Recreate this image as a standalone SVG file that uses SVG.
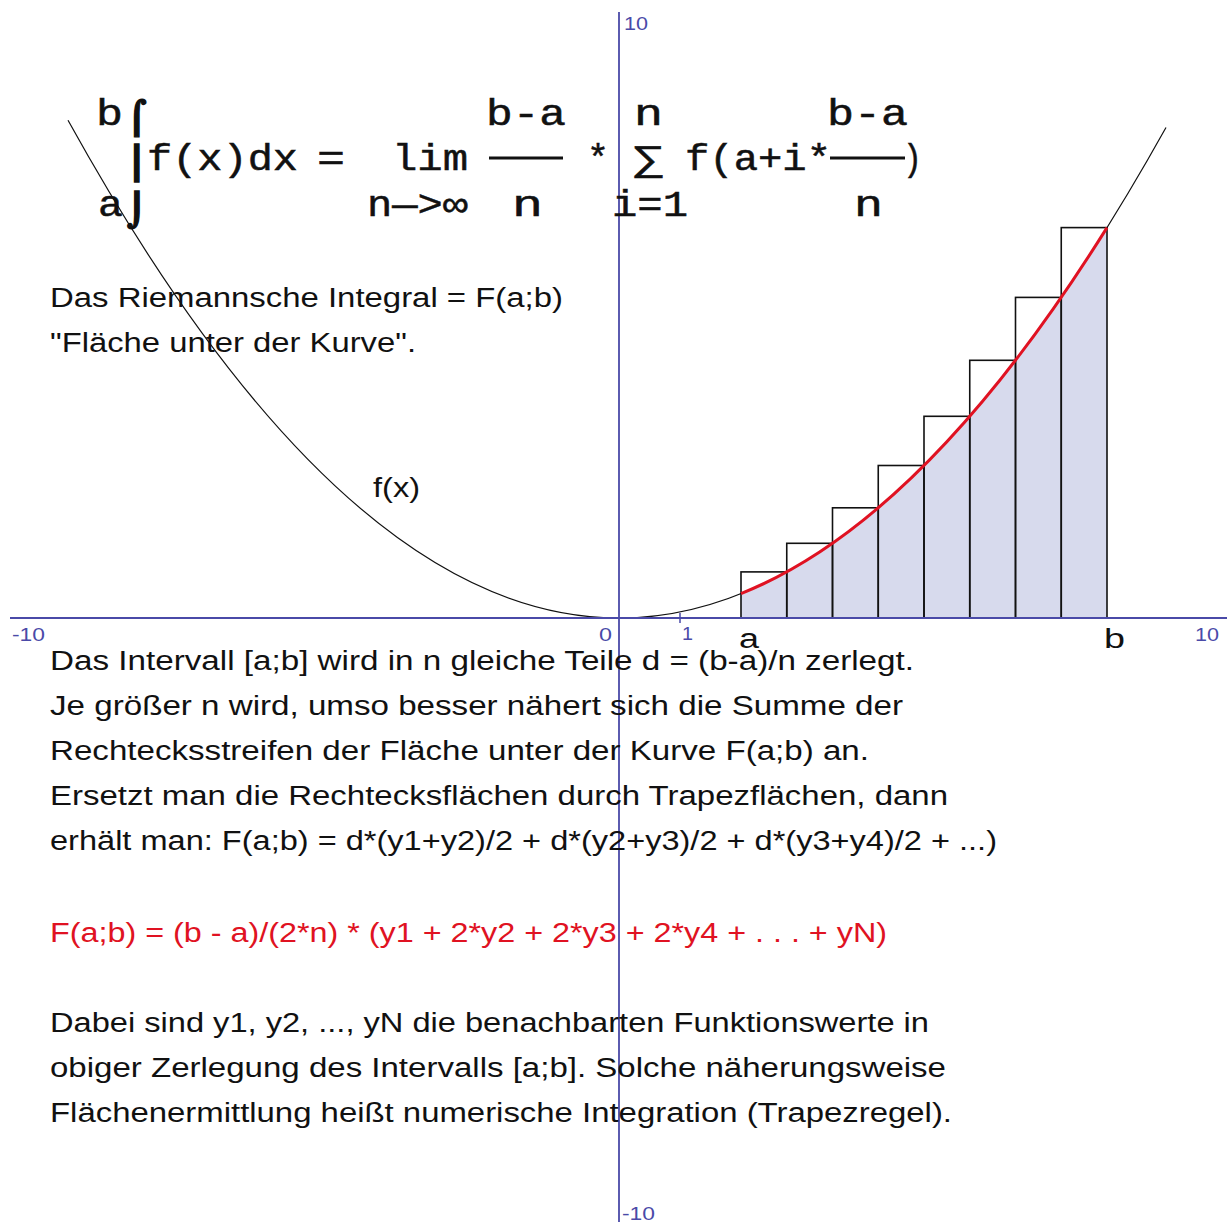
<svg xmlns="http://www.w3.org/2000/svg" width="1227" height="1222" viewBox="0 0 1227 1222">
<style>
.t{font-family:"Liberation Sans",Arial,sans-serif;font-size:27px;fill:#111}
.r{fill:#e01222}
.m{font-family:"Liberation Mono","Courier New",monospace;font-size:36px;fill:#111;stroke:#111;stroke-width:0.5}
.ig{font-family:"DejaVu Sans",sans-serif;font-size:32px;font-weight:bold;fill:#111;stroke:#111;stroke-width:1.4}
.ax{stroke:#4a4aa8;fill:none}
.al{font-family:"Liberation Sans",Arial,sans-serif;font-size:19px;fill:#4a4aa8}
.rect{fill:none;stroke:#111;stroke-width:1.6}
.bar{stroke:#111;stroke-width:3}
</style>
<rect width="1227" height="1222" fill="#fff"/>
<g id="area">
<path d="M741,618 L741,593.6 Q924,520.4 1107,227.6 L1107,618 Z" fill="#d7daed"/>
</g>
<g id="rectangles">
<rect class="rect" x="741" y="571.9" width="45.75" height="46.1"/>
<rect class="rect" x="786.75" y="543.3" width="45.75" height="74.7"/>
<rect class="rect" x="832.5" y="507.8" width="45.75" height="110.2"/>
<rect class="rect" x="878.25" y="465.5" width="45.75" height="152.5"/>
<rect class="rect" x="924" y="416.3" width="45.75" height="201.7"/>
<rect class="rect" x="969.75" y="360.3" width="45.75" height="257.7"/>
<rect class="rect" x="1015.5" y="297.4" width="45.75" height="320.6"/>
<rect class="rect" x="1061.25" y="227.6" width="45.75" height="390.4"/>
</g>
<g id="curve">
<path d="M68,120.3 Q617,1112.1 1166,127.5" fill="none" stroke="#111" stroke-width="1.2"/>
<path d="M741,593.6 Q924,520.4 1107,227.6" fill="none" stroke="#e01222" stroke-width="3"/>
</g>
<g id="axes">
<line class="ax" x1="10" y1="618" x2="1227" y2="618" stroke-width="2"/>
<line class="ax" x1="619" y1="12" x2="619" y2="1222" stroke-width="1.8"/>
<line class="ax" x1="680" y1="613" x2="680" y2="623" stroke-width="1.5"/>
<text class="al" x="12" y="641" textLength="33" lengthAdjust="spacingAndGlyphs">-10</text>
<text class="al" x="599" y="641" textLength="13" lengthAdjust="spacingAndGlyphs">0</text>
<text class="al" x="682" y="640" textLength="11" lengthAdjust="spacingAndGlyphs">1</text>
<text class="al" x="1195" y="641" textLength="24" lengthAdjust="spacingAndGlyphs">10</text>
<text class="al" x="624" y="30" textLength="24" lengthAdjust="spacingAndGlyphs">10</text>
<text class="al" x="622" y="1220" textLength="33" lengthAdjust="spacingAndGlyphs">-10</text>
<text class="t" x="739" y="648" textLength="20" lengthAdjust="spacingAndGlyphs">a</text>
<text class="t" x="1104" y="648" textLength="21" lengthAdjust="spacingAndGlyphs">b</text>
<text class="t" x="373" y="497" textLength="47" lengthAdjust="spacingAndGlyphs">f(x)</text>
</g>
<g id="formula">
<text class="m" x="96" y="125" textLength="27" lengthAdjust="spacingAndGlyphs">b</text>
<text class="m" x="98" y="216" textLength="25" lengthAdjust="spacingAndGlyphs">a</text>
<text class="ig" x="127" y="129">⌠</text>
<text class="ig" x="127" y="174">⎮</text>
<text class="ig" x="127" y="221">⌡</text>
<text class="m" x="147" y="170" textLength="151" lengthAdjust="spacingAndGlyphs">f(x)dx</text>
<text class="m" x="317" y="170" textLength="28" lengthAdjust="spacingAndGlyphs">=</text>
<text class="m" x="392" y="170" textLength="76" lengthAdjust="spacingAndGlyphs">lim</text>
<line class="bar" x1="489" y1="158" x2="563" y2="158"/>
<text class="m" x="587" y="170" textLength="22" lengthAdjust="spacingAndGlyphs">*</text>
<text class="m" x="634" y="170" textLength="29" lengthAdjust="spacingAndGlyphs">∑</text>
<text class="m" x="685" y="170" textLength="146" lengthAdjust="spacingAndGlyphs">f(a+i*</text>
<line class="bar" x1="830" y1="158" x2="905" y2="158"/>
<text class="m" x="903" y="170" textLength="19" lengthAdjust="spacingAndGlyphs">)</text>
<text class="m" x="486" y="125" textLength="80" lengthAdjust="spacingAndGlyphs">b-a</text>
<text class="m" x="634" y="125" textLength="29" lengthAdjust="spacingAndGlyphs">n</text>
<text class="m" x="827" y="125" textLength="81" lengthAdjust="spacingAndGlyphs">b-a</text>
<text class="m" x="367" y="216" textLength="101" lengthAdjust="spacingAndGlyphs">n—&gt;∞</text>
<text class="m" x="512" y="216" textLength="31" lengthAdjust="spacingAndGlyphs">n</text>
<text class="m" x="612" y="216" textLength="76" lengthAdjust="spacingAndGlyphs">i=1</text>
<text class="m" x="854" y="216" textLength="29" lengthAdjust="spacingAndGlyphs">n</text>
</g>
<g id="texts">
<text class="t" x="50" y="307" textLength="513" lengthAdjust="spacingAndGlyphs">Das Riemannsche Integral = F(a;b)</text>
<text class="t" x="50" y="352" textLength="366" lengthAdjust="spacingAndGlyphs">"Fläche unter der Kurve".</text>
<text class="t" x="50" y="670" textLength="864" lengthAdjust="spacingAndGlyphs">Das Intervall [a;b] wird in n gleiche Teile d = (b-a)/n zerlegt.</text>
<text class="t" x="50" y="715" textLength="853" lengthAdjust="spacingAndGlyphs">Je größer n wird, umso besser nähert sich die Summe der</text>
<text class="t" x="50" y="760" textLength="819" lengthAdjust="spacingAndGlyphs">Rechtecksstreifen der Fläche unter der Kurve F(a;b) an.</text>
<text class="t" x="50" y="805" textLength="898" lengthAdjust="spacingAndGlyphs">Ersetzt man die Rechtecksflächen durch Trapezflächen, dann</text>
<text class="t" x="50" y="850" textLength="947" lengthAdjust="spacingAndGlyphs">erhält man: F(a;b) = d*(y1+y2)/2 + d*(y2+y3)/2 + d*(y3+y4)/2 + ...)</text>
<text class="t r" x="50" y="942" textLength="837" lengthAdjust="spacingAndGlyphs">F(a;b) = (b - a)/(2*n) * (y1 + 2*y2 + 2*y3 + 2*y4 + . . . + yN)</text>
<text class="t" x="50" y="1032" textLength="879" lengthAdjust="spacingAndGlyphs">Dabei sind y1, y2, ..., yN die benachbarten Funktionswerte in</text>
<text class="t" x="50" y="1077" textLength="896" lengthAdjust="spacingAndGlyphs">obiger Zerlegung des Intervalls [a;b]. Solche näherungsweise</text>
<text class="t" x="50" y="1122" textLength="902" lengthAdjust="spacingAndGlyphs">Flächenermittlung heißt numerische Integration (Trapezregel).</text>
</g>
</svg>
